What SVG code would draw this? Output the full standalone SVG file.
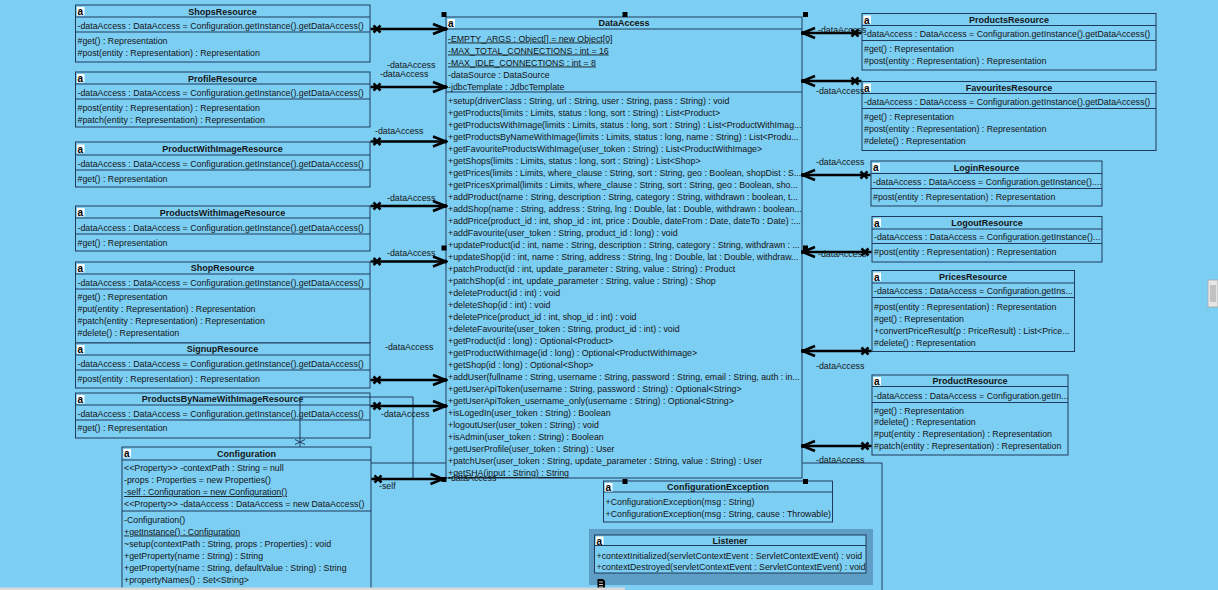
<svg xmlns="http://www.w3.org/2000/svg" width="1218" height="590" viewBox="0 0 1218 590">
<style>
.box{fill:#7DCEF3;stroke:#1F3B5C;stroke-width:1}
.sep{stroke:#1F3B5C;stroke-width:1}
text{font-family:"Liberation Sans",Arial,sans-serif;font-size:8.8px;fill:#141414}
.ti{font-weight:bold;font-size:9px;text-anchor:middle}
.u{text-decoration:underline}
.ic{fill:#fff}
.icl{font-weight:bold;font-size:10px;fill:#000}
.conn{stroke:#000;stroke-width:2.5;fill:none}
.thin{stroke:#1F3B5C;stroke-width:1;fill:none}
.h{fill:#000}
</style>
<defs>
<marker id="ar" markerUnits="userSpaceOnUse" markerWidth="16" markerHeight="14" viewBox="0 0 16 14" refX="14" refY="7" orient="auto"><path d="M1.5,2 L14,7 L1.5,12" fill="none" stroke="#000" stroke-width="2.6"/><circle cx="14" cy="7" r="1.9" fill="#000"/></marker>
<marker id="xm" markerUnits="userSpaceOnUse" markerWidth="14" markerHeight="14" viewBox="0 0 14 14" refX="0" refY="7" orient="auto"><path d="M3,3.5 L10,10.5 M3,10.5 L10,3.5" stroke="#000" stroke-width="2.5"/></marker>
</defs>
<rect width="1218" height="590" fill="#7DCEF3"/>

<g id="ShopsResource">
<rect class="box" x="75.5" y="5" width="294.5" height="57"/>
<line class="sep" x1="75.5" y1="17" x2="370" y2="17"/><line class="sep" x1="75.5" y1="32" x2="370" y2="32"/>
<rect class="ic" x="77" y="7" width="7.5" height="8.5"/><text class="icl" x="77.5" y="15">a</text>
<text class="ti" x="222.5" y="14.5">ShopsResource</text>
<text x="77.5" y="29">-dataAccess : DataAccess = Configuration.getInstance().getDataAccess()</text>
<text x="77.5" y="44">#get() : Representation</text>
<text x="77.5" y="56">#post(entity : Representation) : Representation</text>
</g>

<g id="ProfileResource">
<rect class="box" x="75.5" y="72" width="294.5" height="55"/>
<line class="sep" x1="75.5" y1="84" x2="370" y2="84"/><line class="sep" x1="75.5" y1="99" x2="370" y2="99"/>
<rect class="ic" x="77" y="74" width="7.5" height="8.5"/><text class="icl" x="77.5" y="82">a</text>
<text class="ti" x="222.5" y="81.5">ProfileResource</text>
<text x="77.5" y="96">-dataAccess : DataAccess = Configuration.getInstance().getDataAccess()</text>
<text x="77.5" y="111">#post(entity : Representation) : Representation</text>
<text x="77.5" y="123">#patch(entity : Representation) : Representation</text>
</g>

<g id="ProductWithImageResource">
<rect class="box" x="75.5" y="142" width="294.5" height="45"/>
<line class="sep" x1="75.5" y1="155" x2="370" y2="155"/><line class="sep" x1="75.5" y1="170" x2="370" y2="170"/>
<rect class="ic" x="77" y="144.5" width="7.5" height="8.5"/><text class="icl" x="77.5" y="152.5">a</text>
<text class="ti" x="222.5" y="151.5">ProductWithImageResource</text>
<text x="77.5" y="167">-dataAccess : DataAccess = Configuration.getInstance().getDataAccess()</text>
<text x="77.5" y="182">#get() : Representation</text>
</g>

<g id="ProductsWithImageResource">
<rect class="box" x="75.5" y="206" width="294.5" height="45"/>
<line class="sep" x1="75.5" y1="218" x2="370" y2="218"/><line class="sep" x1="75.5" y1="234" x2="370" y2="234"/>
<rect class="ic" x="77" y="208" width="7.5" height="8.5"/><text class="icl" x="77.5" y="216">a</text>
<text class="ti" x="222.5" y="215.5">ProductsWithImageResource</text>
<text x="77.5" y="230.5">-dataAccess : DataAccess = Configuration.getInstance().getDataAccess()</text>
<text x="77.5" y="246">#get() : Representation</text>
</g>

<g id="ShopResource">
<rect class="box" x="75.5" y="262" width="294.5" height="81"/>
<line class="sep" x1="75.5" y1="274" x2="370" y2="274"/><line class="sep" x1="75.5" y1="289" x2="370" y2="289"/>
<rect class="ic" x="77" y="264" width="7.5" height="8.5"/><text class="icl" x="77.5" y="272">a</text>
<text class="ti" x="222.5" y="271">ShopResource</text>
<text x="77.5" y="285.5">-dataAccess : DataAccess = Configuration.getInstance().getDataAccess()</text>
<text x="77.5" y="300">#get() : Representation</text>
<text x="77.5" y="312">#put(entity : Representation) : Representation</text>
<text x="77.5" y="324">#patch(entity : Representation) : Representation</text>
<text x="77.5" y="336">#delete() : Representation</text>
</g>

<g id="SignupResource">
<rect class="box" x="75.5" y="343" width="294.5" height="45"/>
<line class="sep" x1="75.5" y1="355" x2="370" y2="355"/><line class="sep" x1="75.5" y1="370" x2="370" y2="370"/>
<rect class="ic" x="77" y="345" width="7.5" height="8.5"/><text class="icl" x="77.5" y="353">a</text>
<text class="ti" x="222.5" y="352">SignupResource</text>
<text x="77.5" y="366.5">-dataAccess : DataAccess = Configuration.getInstance().getDataAccess()</text>
<text x="77.5" y="381.5">#post(entity : Representation) : Representation</text>
</g>

<g id="ProductsByNameWithImageResource">
<rect class="box" x="75.5" y="393" width="294.5" height="45"/>
<line class="sep" x1="75.5" y1="405" x2="370" y2="405"/><line class="sep" x1="75.5" y1="420" x2="370" y2="420"/>
<rect class="ic" x="77" y="395" width="7.5" height="8.5"/><text class="icl" x="77.5" y="403">a</text>
<text class="ti" x="222.5" y="402">ProductsByNameWithImageResource</text>
<text x="77.5" y="416.5">-dataAccess : DataAccess = Configuration.getInstance().getDataAccess()</text>
<text x="77.5" y="431">#get() : Representation</text>
</g>

<g id="Configuration">
<rect class="box" x="122" y="447" width="249" height="160"/>
<line class="sep" x1="122" y1="460" x2="371" y2="460"/><line class="sep" x1="122" y1="511" x2="371" y2="511"/>
<rect class="ic" x="123.5" y="449" width="7.5" height="8.5"/><text class="icl" x="124" y="457">a</text>
<text class="ti" x="246.5" y="456.5">Configuration</text>
<text x="124" y="471">&lt;&lt;Property&gt;&gt; -contextPath : String = null</text>
<text x="124" y="483">-props : Properties = new Properties()</text>
<text x="124" y="495" class="u">-self : Configuration = new Configuration()</text>
<text x="124" y="507">&lt;&lt;Property&gt;&gt; -dataAccess : DataAccess = new DataAccess()</text>
<text x="124" y="522.5">-Configuration()</text>
<text x="124" y="534.5" class="u">+getInstance() : Configuration</text>
<text x="124" y="546.5">~setup(contextPath : String, props : Properties) : void</text>
<text x="124" y="558.5">+getProperty(name : String) : String</text>
<text x="124" y="570.5">+getProperty(name : String, defaultValue : String) : String</text>
<text x="124" y="582.5">+propertyNames() : Set&lt;String&gt;</text>
</g>

<g id="DataAccess">
<rect class="box" x="446" y="17" width="356" height="461"/>
<line class="sep" x1="446" y1="29" x2="802" y2="29"/><line class="sep" x1="446" y1="92" x2="802" y2="92"/>
<rect class="ic" x="447.5" y="19" width="7.5" height="8.5"/><text class="icl" x="448" y="27">a</text>
<text class="ti" x="624" y="26">DataAccess</text>
<text x="448" y="41.5" class="u">-EMPTY_ARGS : Object[] = new Object[0]</text>
<text x="448" y="53.5" class="u">-MAX_TOTAL_CONNECTIONS : int = 16</text>
<text x="448" y="65.5" class="u">-MAX_IDLE_CONNECTIONS : int = 8</text>
<text x="448" y="77.5">-dataSource : DataSource</text>
<text x="448" y="89.5">-jdbcTemplate : JdbcTemplate</text>
<text x="448" y="104">+setup(driverClass : String, url : String, user : String, pass : String) : void</text>
<text x="448" y="116">+getProducts(limits : Limits, status : long, sort : String) : List&lt;Product&gt;</text>
<text x="448" y="128">+getProductsWithImage(limits : Limits, status : long, sort : String) : List&lt;ProductWithImag...</text>
<text x="448" y="140">+getProductsByNameWithImage(limits : Limits, status : long, name : String) : List&lt;Produ...</text>
<text x="448" y="152">+getFavouriteProductsWithImage(user_token : String) : List&lt;ProductWithImage&gt;</text>
<text x="448" y="164">+getShops(limits : Limits, status : long, sort : String) : List&lt;Shop&gt;</text>
<text x="448" y="176">+getPrices(limits : Limits, where_clause : String, sort : String, geo : Boolean, shopDist : S...</text>
<text x="448" y="188">+getPricesXprimal(limits : Limits, where_clause : String, sort : String, geo : Boolean, sho...</text>
<text x="448" y="200">+addProduct(name : String, description : String, category : String, withdrawn : boolean, t...</text>
<text x="448" y="212">+addShop(name : String, address : String, lng : Double, lat : Double, withdrawn : boolean...</text>
<text x="448" y="224">+addPrice(product_id : int, shop_id : int, price : Double, dateFrom : Date, dateTo : Date) :...</text>
<text x="448" y="236">+addFavourite(user_token : String, product_id : long) : void</text>
<text x="448" y="248">+updateProduct(id : int, name : String, description : String, category : String, withdrawn : ...</text>
<text x="448" y="260">+updateShop(id : int, name : String, address : String, lng : Double, lat : Double, withdraw...</text>
<text x="448" y="272">+patchProduct(id : int, update_parameter : String, value : String) : Product</text>
<text x="448" y="284">+patchShop(id : int, update_parameter : String, value : String) : Shop</text>
<text x="448" y="296">+deleteProduct(id : int) : void</text>
<text x="448" y="308">+deleteShop(id : int) : void</text>
<text x="448" y="320">+deletePrice(product_id : int, shop_id : int) : void</text>
<text x="448" y="332">+deleteFavourite(user_token : String, product_id : int) : void</text>
<text x="448" y="344">+getProduct(id : long) : Optional&lt;Product&gt;</text>
<text x="448" y="356">+getProductWithImage(id : long) : Optional&lt;ProductWithImage&gt;</text>
<text x="448" y="368">+getShop(id : long) : Optional&lt;Shop&gt;</text>
<text x="448" y="380">+addUser(fullname : String, username : String, password : String, email : String, auth : in...</text>
<text x="448" y="392">+getUserApiToken(username : String, password : String) : Optional&lt;String&gt;</text>
<text x="448" y="404">+getUserApiToken_username_only(username : String) : Optional&lt;String&gt;</text>
<text x="448" y="416">+isLogedIn(user_token : String) : Boolean</text>
<text x="448" y="428">+logoutUser(user_token : String) : void</text>
<text x="448" y="440">+isAdmin(user_token : String) : Boolean</text>
<text x="448" y="452">+getUserProfile(user_token : String) : User</text>
<text x="448" y="464">+patchUser(user_token : String, update_parameter : String, value : String) : User</text>
<text x="448" y="476" class="u">+getSHA(input : String) : String</text>
</g>

<g id="ProductsResource">
<rect class="box" x="862" y="13.5" width="294" height="56.5"/>
<line class="sep" x1="862" y1="25.5" x2="1156" y2="25.5"/><line class="sep" x1="862" y1="40.5" x2="1156" y2="40.5"/>
<rect class="ic" x="863.5" y="15.5" width="7.5" height="8.5"/><text class="icl" x="864" y="23.5">a</text>
<text class="ti" x="1009" y="22.5">ProductsResource</text>
<text x="864" y="37">-dataAccess : DataAccess = Configuration.getInstance().getDataAccess()</text>
<text x="864" y="52">#get() : Representation</text>
<text x="864" y="64">#post(entity : Representation) : Representation</text>
</g>

<g id="FavouritesResource">
<rect class="box" x="862" y="81.5" width="294" height="69"/>
<line class="sep" x1="862" y1="93.5" x2="1156" y2="93.5"/><line class="sep" x1="862" y1="108.5" x2="1156" y2="108.5"/>
<rect class="ic" x="863.5" y="83.5" width="7.5" height="8.5"/><text class="icl" x="864" y="91.5">a</text>
<text class="ti" x="1009" y="90.5">FavouritesResource</text>
<text x="864" y="105">-dataAccess : DataAccess = Configuration.getInstance().getDataAccess()</text>
<text x="864" y="120">#get() : Representation</text>
<text x="864" y="132">#post(entity : Representation) : Representation</text>
<text x="864" y="144">#delete() : Representation</text>
</g>

<g id="LoginResource">
<rect class="box" x="871" y="161" width="231" height="45"/>
<line class="sep" x1="871" y1="173.5" x2="1102" y2="173.5"/><line class="sep" x1="871" y1="188.5" x2="1102" y2="188.5"/>
<rect class="ic" x="872.5" y="163" width="7.5" height="8.5"/><text class="icl" x="873" y="171">a</text>
<text class="ti" x="986.5" y="170.5">LoginResource</text>
<text x="873" y="185">-dataAccess : DataAccess = Configuration.getInstance()....</text>
<text x="873" y="200">#post(entity : Representation) : Representation</text>
</g>

<g id="LogoutResource">
<rect class="box" x="872" y="216.5" width="230" height="45.5"/>
<line class="sep" x1="872" y1="229" x2="1102" y2="229"/><line class="sep" x1="872" y1="243.5" x2="1102" y2="243.5"/>
<rect class="ic" x="873.5" y="218.5" width="7.5" height="8.5"/><text class="icl" x="874" y="226.5">a</text>
<text class="ti" x="987" y="225.5">LogoutResource</text>
<text x="874" y="240">-dataAccess : DataAccess = Configuration.getInstance()...</text>
<text x="874" y="255">#post(entity : Representation) : Representation</text>
</g>

<g id="PricesResource">
<rect class="box" x="872" y="270.5" width="202.5" height="81"/>
<line class="sep" x1="872" y1="283" x2="1074.5" y2="283"/><line class="sep" x1="872" y1="297.5" x2="1074.5" y2="297.5"/>
<rect class="ic" x="873.5" y="272.5" width="7.5" height="8.5"/><text class="icl" x="874" y="280.5">a</text>
<text class="ti" x="973" y="279.5">PricesResource</text>
<text x="874" y="294">-dataAccess : DataAccess = Configuration.getIns...</text>
<text x="874" y="309.5">#post(entity : Representation) : Representation</text>
<text x="874" y="321.5">#get() : Representation</text>
<text x="874" y="333.5">+convertPriceResult(p : PriceResult) : List&lt;Price...</text>
<text x="874" y="345.5">#delete() : Representation</text>
</g>

<g id="ProductResource">
<rect class="box" x="872" y="375" width="196" height="80"/>
<line class="sep" x1="872" y1="386.5" x2="1068" y2="386.5"/><line class="sep" x1="872" y1="402.5" x2="1068" y2="402.5"/>
<rect class="ic" x="873.5" y="377" width="7.5" height="8.5"/><text class="icl" x="874" y="385">a</text>
<text class="ti" x="970" y="383.5">ProductResource</text>
<text x="874" y="398.5">-dataAccess : DataAccess = Configuration.getIn...</text>
<text x="874" y="413.5">#get() : Representation</text>
<text x="874" y="425">#delete() : Representation</text>
<text x="874" y="437">#put(entity : Representation) : Representation</text>
<text x="874" y="449">#patch(entity : Representation) : Representation</text>
</g>

<g id="ConfigurationException">
<rect class="box" x="603.5" y="481" width="229" height="41"/>
<line class="sep" x1="603.5" y1="492" x2="832.5" y2="492"/>
<rect class="ic" x="605" y="483" width="7.5" height="8.5"/><text class="icl" x="605.5" y="491">a</text>
<text class="ti" x="718" y="489.5">ConfigurationException</text>
<text x="605.5" y="505">+ConfigurationException(msg : String)</text>
<text x="605.5" y="517">+ConfigurationException(msg : String, cause : Throwable)</text>
</g>

<g id="Listener">
<rect x="589" y="529" width="284" height="56" fill="#5E9DC5"/>
<rect class="box" x="594.5" y="535" width="271.5" height="38"/>
<line class="sep" x1="594.5" y1="545.5" x2="866" y2="545.5"/>
<rect class="ic" x="596" y="536.5" width="7.5" height="8.5"/><text class="icl" x="596.5" y="544.5">a</text>
<text class="ti" x="730" y="543.5">Listener</text>
<text x="596.5" y="558.5">+contextInitialized(servletContextEvent : ServletContextEvent) : void</text>
<text x="596.5" y="570">+contextDestroyed(servletContextEvent : ServletContextEvent) : void</text>
<path d="M597.5,579 H603 L605,581 V589 H597.5 Z" fill="#000"/>
<path d="M599,582 H603 M599,584.5 H603 M599,587 H603" stroke="#fff" stroke-width="0.8"/>
</g>

<g id="connectors">
<path class="thin" d="M802.5,463 H882 V590"/>
<path class="thin" d="M300,447 V397 H413 V479 H371"/>
<path class="thin" d="M295,439.5 L305,444.5 M295,444.5 L305,439.5"/>
<path class="thin" d="M371,463 H446"/>
<path class="conn" d="M370.5,29 H445.5" marker-start="url(#xm)" marker-end="url(#ar)"/>
<path class="conn" d="M370.5,87 H445.5" marker-start="url(#xm)" marker-end="url(#ar)"/>
<path class="conn" d="M370.5,141.5 H445.5" marker-start="url(#xm)" marker-end="url(#ar)"/>
<path class="conn" d="M370.5,206 H445.5" marker-start="url(#xm)" marker-end="url(#ar)"/>
<path class="conn" d="M370.5,261.5 H445.5" marker-start="url(#xm)" marker-end="url(#ar)"/>
<path class="conn" d="M370.5,380 H445.5" marker-start="url(#xm)" marker-end="url(#ar)"/>
<path class="conn" d="M370.5,406 H445.5" marker-start="url(#xm)" marker-end="url(#ar)"/>
<path class="conn" d="M371.5,479 H443" marker-start="url(#xm)" marker-end="url(#ar)"/>
<path class="conn" d="M861.5,33 H802.5" marker-start="url(#xm)" marker-end="url(#ar)"/>
<path class="conn" d="M861.5,81 H802.5" marker-start="url(#xm)" marker-end="url(#ar)"/>
<path class="conn" d="M870.5,175 H802.5" marker-start="url(#xm)" marker-end="url(#ar)"/>
<path class="conn" d="M871.5,252 H802.5" marker-start="url(#xm)" marker-end="url(#ar)"/>
<path class="conn" d="M871.5,351 H802.5" marker-start="url(#xm)" marker-end="url(#ar)"/>
<path class="conn" d="M871.5,446 H802.5" marker-start="url(#xm)" marker-end="url(#ar)"/>
<text x="387" y="68">-dataAccess</text>
<text x="380" y="77">-dataAccess</text>
<text x="375" y="134">-dataAccess</text>
<text x="387" y="201">-dataAccess</text>
<text x="387" y="256">-dataAccess</text>
<text x="385" y="350">-dataAccess</text>
<text x="381" y="417">-dataAccess</text>
<text x="379" y="489">-self</text>
<text x="448" y="481">-dataAccess</text>
<text x="818" y="33">-dataAccess</text>
<text x="816" y="94">-dataAccess</text>
<text x="816" y="165">-dataAccess</text>
<text x="818" y="257">-dataAccess</text>
<text x="816" y="369">-dataAccess</text>
<text x="816" y="463">-dataAccess</text>
</g>

<g id="handles">
<rect class="h" x="441.5" y="12" width="5" height="5"/>
<rect class="h" x="622.5" y="12" width="5" height="5"/>
<rect class="h" x="803" y="12" width="5" height="5"/>
<rect class="h" x="441.5" y="245.5" width="5" height="5"/>
<rect class="h" x="803" y="245.5" width="5" height="5"/>
<rect class="h" x="441.5" y="477" width="5" height="5"/>
<rect class="h" x="622.5" y="479" width="5" height="5"/>
<rect class="h" x="803" y="479" width="5" height="5"/>
</g>

<g id="scrollbars">
<rect x="0" y="587.5" width="625" height="2.5" fill="#DADADA"/>
<rect x="1208" y="280" width="10" height="27" fill="#E6E6E6" stroke="#A8A8A8" stroke-width="0.8"/>
<path d="M1211,285 V302 M1213,285 V302 M1215,285 V302" stroke="#8A8A8A" stroke-width="0.8"/>
</g>
</svg>
